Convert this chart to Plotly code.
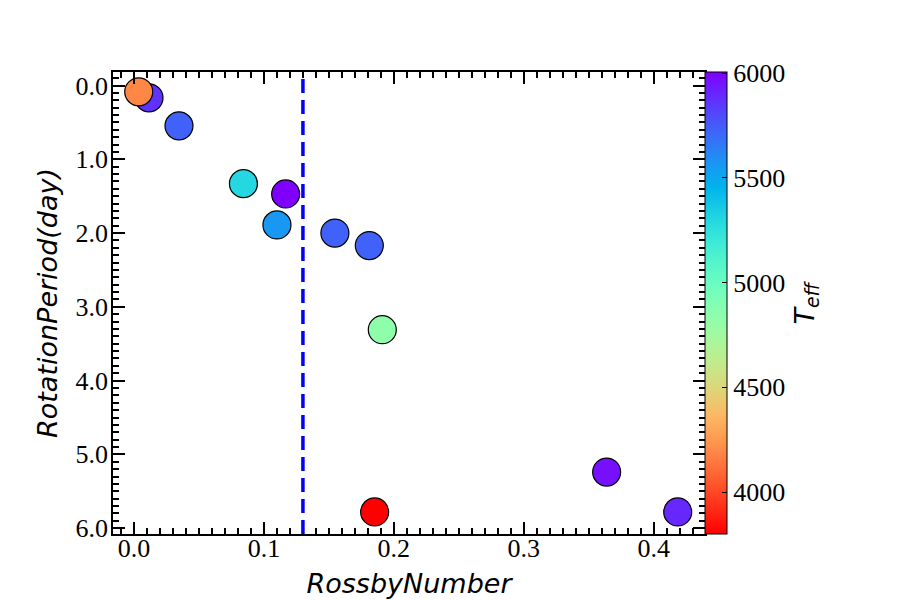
import math
import plotly.graph_objects as go

# ---- data ----
rossby = [0.0115, 0.0036, 0.0346, 0.0842, 0.1167, 0.1100, 0.1546, 0.1811, 0.1911, 0.1852, 0.3638, 0.4185]
period = [0.167, 0.086, 0.547, 1.33, 1.47, 1.89, 2.00, 2.17, 3.31, 5.78, 5.24, 5.78]
teff = [5868, 4192, 5729, 5299, 6005, 5557, 5729, 5729, 4836, 3800, 5960, 5895]
rossby_threshold = 0.13
x_ticks = [0.0, 0.1, 0.2, 0.3, 0.4]
y_ticks = [0.0, 1.0, 2.0, 3.0, 4.0, 5.0, 6.0]
cbar_ticks = [4000, 4500, 5000, 5500, 6000]


# matplotlib "rainbow" reversed (red = low, purple = high)
def rainbow(s):
    r = min(1.0, abs(2 * s - 0.5))
    g = math.sin(math.pi * s)
    b = math.cos(math.pi * s / 2)
    return "rgb(%d,%d,%d)" % (round(r * 255), round(g * 255), round(max(b, 0) * 255))


N = 32
colorscale = [[i / N, rainbow(1 - i / N)] for i in range(N + 1)]

serif = "Liberation Serif"
sans = "DejaVu Sans"

fig = go.Figure()
fig.add_trace(go.Scatter(
    x=rossby, y=period, mode="markers",
    marker=dict(
        size=28, color=teff, colorscale=colorscale,
        cmin=min(teff), cmax=max(teff),
        line=dict(color="black", width=1.2),
        opacity=1,
        colorbar=dict(
            x=1.0, xanchor="left", xpad=0, y=0.5, yanchor="middle",
            len=1, lenmode="fraction", thickness=22, thicknessmode="pixels",
            outlinewidth=1, outlinecolor="black",
            tickvals=cbar_ticks, ticks="inside", ticklen=5, tickwidth=1,
            tickcolor="black",
            tickfont=dict(family=serif, size=26, color="black"),
            ypad=0,
        ),
    ),
    showlegend=False,
))

fig.add_shape(
    type="line", xref="x", yref="y domain",
    x0=rossby_threshold, x1=rossby_threshold, y0=0, y1=1,
    line=dict(color="blue", width=3.5, dash="14px,7px"),
)

fig.add_annotation(
    text="<i>T</i><sub><i>eff</i></sub>", xref="paper", yref="paper",
    x=1.0, y=0.5, xshift=120, textangle=-90, showarrow=False,
    font=dict(family=sans, size=27, color="black"),
)

axis_common = dict(
    showline=True, linecolor="black", linewidth=1.5, mirror="allticks",
    ticks="inside", ticklen=12, tickwidth=2, tickcolor="black",
    showgrid=False, zeroline=False, automargin=False,
    tickfont=dict(family=serif, size=26, color="black"),
)

fig.update_layout(
    width=900, height=600,
    margin=dict(l=105, r=203, t=64, b=74, autoexpand=False),
    paper_bgcolor="white", plot_bgcolor="white",
    xaxis=dict(
        range=[-0.0162, 0.4395], tickvals=x_ticks, tickformat=".1f",
        ticklabelstandoff=-10,
        minor=dict(dtick=0.01, tick0=0, ticks="inside", ticklen=6, tickwidth=2, tickcolor="black"),
        title=dict(text="RossbyNumber", standoff=12,
                   font=dict(family=sans, size=27, color="black", style="italic")),
        **axis_common,
    ),
    yaxis=dict(
        range=[6.079, -0.183], tickvals=y_ticks, tickformat=".1f",
        ticklabelstandoff=-2,
        minor=dict(dtick=0.1, tick0=0, ticks="inside", ticklen=6, tickwidth=2, tickcolor="black"),
        title=dict(text="RotationPeriod(day)", standoff=10,
                   font=dict(family=sans, size=27, color="black", style="italic")),
        **axis_common,
    ),
)

fig.write_html("out.html")
